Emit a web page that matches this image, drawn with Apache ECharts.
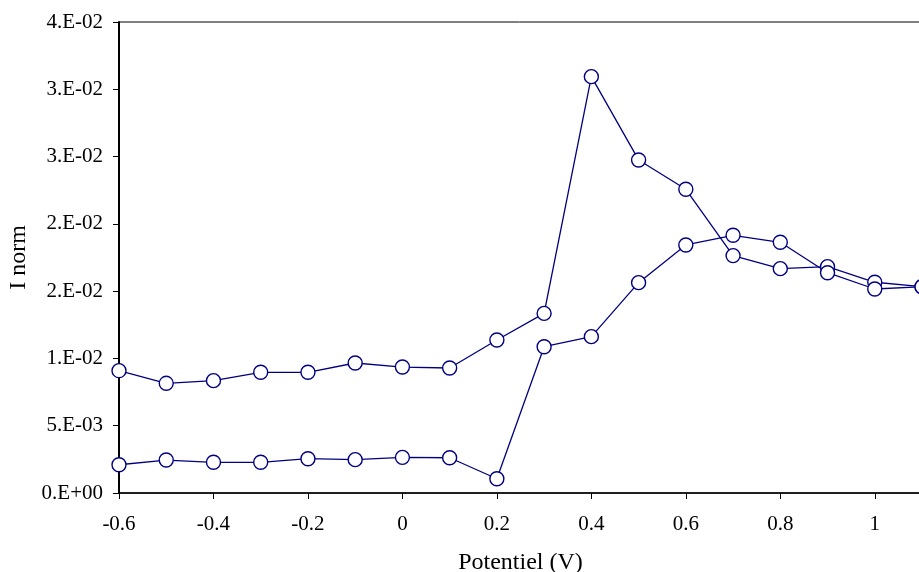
<!DOCTYPE html>
<html>
<head>
<meta charset="utf-8">
<script src="https://cdn.jsdelivr.net/npm/echarts@6/dist/echarts.min.js"></script>
<style>
html,body{margin:0;padding:0;background:#fff;}
#chart{width:919px;height:572px;}
</style>
</head>
<body>
<div id="chart"></div>
<script>
// Potentials (V)
var potentials = [-0.6,-0.5,-0.4,-0.3,-0.2,-0.1,0,0.1,0.2,0.3,0.4,0.5,0.6,0.7,0.8,0.9,1.0,1.1];
// Series with the peak
var seriesA = [0.00909,0.00815,0.00835,0.00897,0.00897,0.00966,0.00936,0.00929,0.01137,0.01335,0.03094,0.02475,0.02257,0.01764,0.01667,0.01682,0.01566,0.01533];
// Lower series
var seriesB = [0.00210,0.00245,0.00228,0.00228,0.00255,0.00248,0.00265,0.00262,0.00106,0.01087,0.01162,0.01563,0.01843,0.01915,0.01863,0.01637,0.01516,0.01533];
// Y tick labels (Excel "0.E+00" format)
var yTickLabels = ["0.E+00","5.E-03","1.E-02","2.E-02","2.E-02","3.E-02","3.E-02","4.E-02"];
var xTickLabels = {"-0.6":"-0.6","-0.4":"-0.4","-0.2":"-0.2","0":"0","0.2":"0.2","0.4":"0.4","0.6":"0.6","0.8":"0.8","1":"1"};

function pairs(xs, ys){ return xs.map(function(x,i){ return [x, ys[i]]; }); }

var font = "Liberation Serif";
var navy = "#000080";
var chart = echarts.init(document.getElementById('chart'), null, {renderer:'canvas'});
var seriesStyle = {
  type:'line',
  symbol:'circle',
  symbolSize:14,
  lineStyle:{color:navy,width:1.3},
  itemStyle:{color:'#fff',borderColor:navy,borderWidth:1.4},
  animation:false,
  clip:false
};
chart.setOption({
  backgroundColor:'#fff',
  grid:{left:119,right:-3,top:22,bottom:79,outerBoundsMode:'none',containLabel:false,
        show:true,borderColor:'#000',borderWidth:1,backgroundColor:'transparent'},
  xAxis:{
    type:'value',min:-0.6,max:1.1,interval:0.2,
    name:'Potentiel (V)',nameLocation:'middle',nameGap:58,
    nameTextStyle:{fontFamily:font,fontSize:24,color:'#000'},
    axisLine:{onZero:false,lineStyle:{color:'#000',width:1.5}},
    axisTick:{show:true,length:6,lineStyle:{color:'#000'}},
    axisLabel:{fontFamily:font,fontSize:21,color:'#000',margin:21,
      formatter:function(v){var k=String(Math.round(v*10)/10);return xTickLabels[k]!==undefined?xTickLabels[k]:'';},
      showMaxLabel:false},
    splitLine:{show:false}
  },
  yAxis:{
    type:'value',min:0,max:0.035,interval:0.005,
    name:'I norm',nameLocation:'middle',nameGap:82,nameRotate:90,
    nameTextStyle:{fontFamily:font,fontSize:24,color:'#000'},
    axisLine:{onZero:false,lineStyle:{color:'#000',width:2}},
    axisTick:{show:true,length:6,lineStyle:{color:'#000'}},
    axisLabel:{fontFamily:font,fontSize:21,color:'#000',margin:16,
      formatter:function(v){return yTickLabels[Math.round(v/0.005)];}},
    splitLine:{show:false}
  },
  series:[
    Object.assign({data:pairs(potentials,seriesA)},seriesStyle),
    Object.assign({data:pairs(potentials,seriesB)},seriesStyle)
  ]
});
</script>
</body>
</html>
